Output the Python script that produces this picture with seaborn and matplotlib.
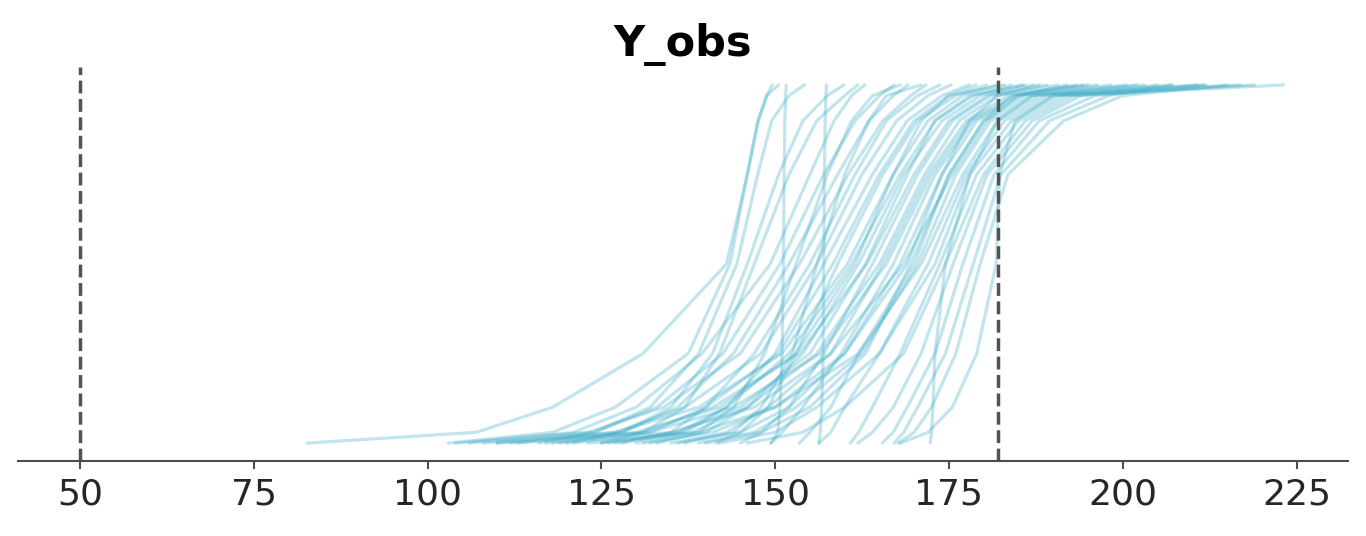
import numpy as np
import pandas as pd
import matplotlib
matplotlib.use("Agg")
import matplotlib.pyplot as plt
import seaborn as sns

ecdf_levels = [0.0, 0.03, 0.10, 0.25, 0.50, 0.75, 0.90, 0.97, 1.0]

# x value of each draw at the levels above
draw_values = [
    [82.7, 107.0, 118.0, 131.0, 143.0, 146.0, 147.5, 148.8, 149.6],
    [103.0, 118.0, 127.0, 137.5, 143.5, 146.0, 147.6, 148.8, 150.5],
    [116.0, 124.0, 132.0, 139.0, 144.5, 147.5, 149.5, 152.0, 154.2],
    [149.4, 150.4, 150.7, 151.0, 151.2, 151.3, 151.4, 151.5, 151.6],
    [120.0, 128.0, 135.0, 141.0, 146.0, 150.5, 154.0, 157.5, 159.9],
    [156.3, 156.5, 156.7, 156.9, 157.0, 157.1, 157.2, 157.3, 157.4],
    [125.0, 131.0, 137.0, 142.0, 147.0, 152.0, 156.0, 160.0, 161.9],
    [106.0, 121.0, 130.0, 139.5, 149.3, 155.0, 158.5, 161.0, 162.9],
    [110.0, 124.0, 133.0, 142.5, 150.7, 157.0, 161.5, 165.0, 167.1],
    [118.0, 128.0, 136.0, 144.0, 152.0, 159.0, 163.5, 167.0, 169.1],
    [104.0, 123.0, 134.0, 145.0, 153.5, 160.5, 165.5, 169.5, 171.7],
    [128.0, 135.0, 140.0, 147.0, 155.0, 161.5, 166.0, 170.5, 173.7],
    [113.0, 127.0, 137.0, 148.0, 156.0, 162.5, 167.5, 172.0, 175.3],
    [130.0, 137.0, 143.0, 150.0, 157.0, 164.0, 169.0, 174.0, 177.9],
    [121.0, 132.0, 140.0, 150.5, 158.3, 165.0, 170.0, 175.0, 178.9],
    [141.5, 145.0, 149.0, 153.0, 159.0, 165.5, 170.5, 176.0, 180.4],
    [108.0, 127.0, 139.0, 151.0, 160.4, 167.0, 172.0, 177.0, 181.9],
    [125.0, 136.0, 143.0, 152.0, 161.0, 168.0, 173.0, 178.5, 184.0],
    [133.0, 140.0, 146.0, 154.0, 162.0, 168.5, 174.0, 179.5, 185.5],
    [117.0, 131.0, 141.0, 153.5, 163.2, 170.0, 175.0, 180.5, 187.1],
    [145.0, 148.0, 152.0, 157.0, 164.0, 170.5, 175.5, 181.0, 189.1],
    [127.0, 138.0, 146.0, 156.0, 165.0, 171.5, 176.5, 182.0, 190.7],
    [136.0, 143.0, 149.0, 158.0, 165.5, 172.0, 177.5, 183.5, 193.3],
    [112.0, 132.0, 144.0, 156.5, 166.0, 172.5, 178.0, 184.5, 194.3],
    [149.4, 151.0, 154.0, 159.5, 167.0, 173.0, 178.5, 185.0, 196.3],
    [172.3, 172.5, 172.7, 173.0, 174.5, 178.0, 182.0, 187.0, 198.3],
    [131.0, 141.0, 150.0, 160.0, 169.0, 174.0, 179.0, 186.0, 200.5],
    [153.5, 155.0, 158.0, 162.0, 170.0, 175.0, 180.0, 187.0, 203.1],
    [139.0, 147.0, 153.0, 162.5, 170.5, 176.0, 181.0, 188.0, 207.1],
    [123.0, 139.0, 150.0, 162.0, 171.0, 177.0, 182.0, 189.0, 210.7],
    [156.3, 158.0, 160.0, 165.0, 172.0, 177.5, 183.0, 190.0, 211.7],
    [142.0, 150.0, 156.0, 165.0, 173.0, 178.0, 184.0, 191.0, 216.9],
    [160.8, 162.0, 164.0, 168.0, 173.7, 179.0, 185.0, 192.0, 218.9],
    [146.0, 154.0, 160.0, 168.5, 174.5, 180.0, 186.0, 193.0, 223.1],
    [161.9, 164.0, 167.0, 171.0, 175.6, 180.5, 187.0, 194.0, 205.0],
    [165.4, 167.0, 169.0, 173.0, 177.0, 181.5, 188.0, 196.0, 212.0],
    [167.1, 168.5, 170.5, 174.5, 178.5, 182.5, 189.5, 198.0, 207.0],
    [167.7, 170.0, 172.5, 176.0, 179.5, 183.5, 191.5, 200.0, 215.0],
    [168.0, 172.0, 175.5, 179.0, 181.8, 182.3, 184.5, 190.0, 202.0],
    [135.0, 145.0, 152.0, 160.0, 168.0, 174.0, 178.0, 182.0, 188.0],
    [119.0, 135.0, 147.0, 158.0, 168.5, 175.5, 180.5, 185.0, 192.0],
    [140.0, 148.0, 155.0, 163.0, 169.5, 175.0, 180.0, 184.0, 195.0],
    [110.0, 130.0, 142.0, 153.0, 161.5, 167.0, 171.0, 175.0, 183.0],
    [126.0, 136.0, 145.0, 155.0, 163.0, 169.0, 173.0, 178.0, 186.0],
    [137.0, 144.0, 148.0, 152.5, 156.0, 160.0, 163.5, 166.0, 171.0],
    [132.0, 139.0, 144.0, 148.5, 153.0, 157.5, 161.0, 164.0, 168.0],
]

# observed bounds drawn as dashed lines
obs_bounds = [50, 182]
x_ticks = [50, 75, 100, 125, 150, 175, 200, 225]

# long table for seaborn
rows = []
for i, vals in enumerate(draw_values):
    for lev, v in zip(ecdf_levels, vals):
        rows.append({"draw": i, "Y_obs": v, "ecdf": lev})
df = pd.DataFrame(rows)

sns.set_theme(style="white")
plt.rcParams['font.family'] = ['DejaVu Sans']

fig, ax = plt.subplots(figsize=(13.66, 5.36), dpi=100)
fig.subplots_adjust(left=0.0132, right=0.9868, bottom=0.14, top=0.875)

sns.lineplot(data=df, x="Y_obs", y="ecdf", units="draw", estimator=None,
             sort=False, color="#3fadc8", alpha=0.32, linewidth=2.3, ax=ax)

for b in obs_bounds:
    ax.axvline(b, color="0.32", linestyle="--", linewidth=2.5)

ax.set_xlim(41.1, 232.4)
ax.set_ylim(-0.05, 1.05)
ax.set_xticks(x_ticks)
ax.set_yticks([])
ax.set_xlabel("")
ax.set_ylabel("")
ax.set_title("Y_obs", fontsize=31, fontweight="bold", color="black", pad=8)

sns.despine(ax=ax, left=True, top=True, right=True)
ax.spines["bottom"].set_color("0.3")
ax.spines["bottom"].set_linewidth(1.5)
ax.tick_params(axis="x", labelsize=26, length=6, width=1.5, color="0.3",
               labelcolor="0.15", pad=6, bottom=True)

fig.savefig("out.png", dpi=100)
